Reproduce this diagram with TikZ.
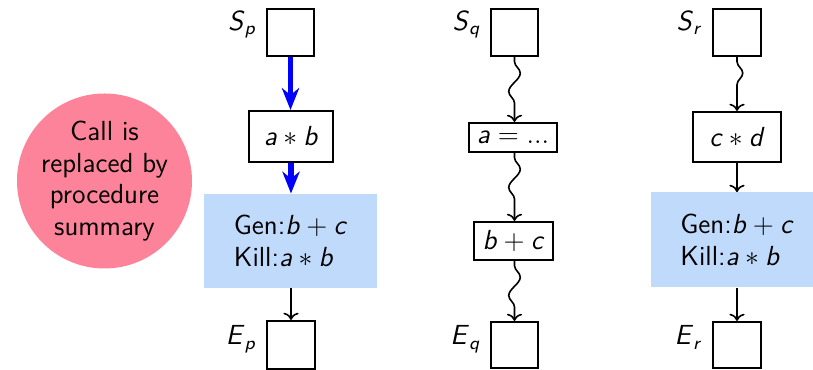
\documentclass[tikz,border=0pt]{standalone}
\usepackage{amsmath}
\usetikzlibrary{arrows.meta,decorations.pathmorphing}
\definecolor{pinkc}{RGB}{252,131,153}
\definecolor{lblue}{RGB}{192,218,252}
\newcommand{\mv}[1]{\textsf{\textit{#1}}}
\newcommand{\pxu}{0.4348pt}
\begin{document}
\begin{tikzpicture}[x=0.4348pt,y=-0.4348pt,
  every node/.style={font=\sffamily\fontsize{12}{13.8}\selectfont},
  blk/.style={draw, line width=0.9pt, fill=white, inner sep=0pt},
  summ/.style={fill=lblue, inner sep=0pt, align=left},
  lbl/.style={anchor=base east, inner sep=0pt},
  flow/.style={->, line width=0.7pt},
  wav/.style={->, line width=0.7pt, decorate, decoration={snake, amplitude=2.5pt, segment length=16pt, pre length=2pt, post length=6pt}},
  bflow/.style={-{Stealth[length=9.5pt,width=7.5pt,inset=3pt]}, blue, line width=2.5pt}
]
\useasboundingbox (0,0) rectangle (813,370);
\clip (0,0) rectangle (813,370);

% call circle
\node[circle, fill=pinkc, minimum size=175*\pxu, inner sep=0pt, align=center] (call) at (104.5,181) {Call is\\replaced by\\procedure\\summary};

% column p
\node[blk, minimum width=47*\pxu, minimum height=47*\pxu] (Sp) at (290.5,32.5) {};
\node[blk, minimum width=84*\pxu, minimum height=51*\pxu] (ab) at (291,136.5) {$\mv{a}\ast\mv{b}$};
\node[summ, minimum width=173*\pxu, minimum height=94*\pxu] (gp) at (290.5,241) {Gen:$\mv{b}+\mv{c}$\\Kill:$\mv{a}\ast\mv{b}$};
\node[blk, minimum width=48*\pxu, minimum height=48*\pxu] (Ep) at (291,345) {};
\node[lbl] (lSp) at ([xshift=-9*\pxu,yshift=2*\pxu]Sp.west) {$\mv{S}_{\mv{p}}$};
\node[lbl] (lEp) at ([xshift=-9*\pxu]Ep.west) {$\mv{E}_{\mv{p}}$};
\draw[bflow] (Sp.south) -- (Sp.south |- ab.north);
\draw[bflow] (ab.south) -- (ab.south |- gp.north);
\draw[flow] (gp.south -| Ep.north) -- (Ep.north);

% column q
\node[blk, minimum width=47*\pxu, minimum height=47*\pxu] (Sq) at (514.5,32.5) {};
\node[blk, minimum width=88*\pxu, minimum height=29*\pxu] (aq) at (513,137.5) {$\mv{a} = ...$};
\node[blk, minimum width=79*\pxu, minimum height=38*\pxu] (bq) at (513.5,241) {$\mv{b}+\mv{c}$};
\node[blk, minimum width=47*\pxu, minimum height=46*\pxu] (Eq) at (514.5,345) {};
\node[lbl] (lSq) at ([xshift=-9*\pxu,yshift=2*\pxu]Sq.west) {$\mv{S}_{\mv{q}}$};
\node[lbl] (lEq) at ([xshift=-9*\pxu]Eq.west) {$\mv{E}_{\mv{q}}$};
\draw[wav] (Sq.south) -- (Sq.south |- aq.north);
\draw[wav] (aq.south -| Sq.south) -- (Sq.south |- bq.north);
\draw[wav] (bq.south -| Sq.south) -- (Eq.north);

% column r
\node[blk, minimum width=48*\pxu, minimum height=47*\pxu] (Sr) at (737,32.5) {};
\node[blk, minimum width=88*\pxu, minimum height=50*\pxu] (cr) at (737,137) {$\mv{c}\ast\mv{d}$};
\node[summ, minimum width=173*\pxu, minimum height=95*\pxu] (gr) at (737,240) {Gen:$\mv{b}+\mv{c}$\\Kill:$\mv{a}\ast\mv{b}$};
\node[blk, minimum width=48*\pxu, minimum height=46*\pxu] (Er) at (737,345) {};
\node[lbl] (lSr) at ([xshift=-9*\pxu,yshift=2*\pxu]Sr.west) {$\mv{S}_{\mv{r}}$};
\node[lbl] (lEr) at ([xshift=-9*\pxu]Er.west) {$\mv{E}_{\mv{r}}$};
\draw[wav] (Sr.south) -- (cr.north);
\draw[flow] (cr.south) -- (gr.north);
\draw[flow] (gr.south) -- (Er.north);
\end{tikzpicture}
\end{document}
